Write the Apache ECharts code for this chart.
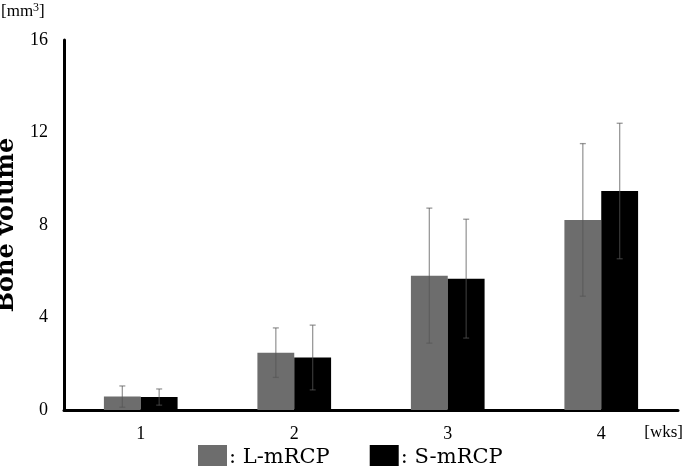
<!DOCTYPE html>
<html><head><meta charset="utf-8">
<script src="https://cdn.jsdelivr.net/npm/echarts@6/dist/echarts.min.js"></script>
<style>html,body{margin:0;padding:0;background:#fff}#c{width:685px;height:466px}</style>
</head><body><div id="c"></div>
<script>
const categories = ['1', '2', '3', '4'];
const seriesNames = ['L-mRCP', 'S-mRCP'];
const lMean = [0.58, 2.48, 5.81, 8.22];
const lErr = [0.46, 1.07, 2.92, 3.3];
const sMean = [0.56, 2.27, 5.68, 9.47];
const sErr = [0.35, 1.4, 2.57, 2.93];
const yTicks = [0, 4, 8, 12, 16];

const FONT = '"Liberation Serif", "DejaVu Serif", serif';
const WIDE = '"DejaVu Serif", serif';
const chart = echarts.init(document.getElementById('c'), null, {renderer: 'canvas'});

function errSeries(mean, err, side) {
  return {
    type: 'custom',
    z: 10,
    silent: true,
    data: mean.map((m, i) => [i, m - err[i], m + err[i]]),
    renderItem: function (params, api) {
      const i = api.value(0);
      const lo = api.coord([i, api.value(1)]);
      const hi = api.coord([i, api.value(2)]);
      const band = api.size([1, 0])[0];
      const x = lo[0] + side * band * 0.12;
      const cap = 3;
      const style = {stroke: 'rgba(85,85,85,0.6)', lineWidth: 1.3, fill: null};
      return {
        type: 'group',
        children: [
          {type: 'line', shape: {x1: x, y1: lo[1], x2: x, y2: hi[1]}, style: style},
          {type: 'line', shape: {x1: x - cap, y1: lo[1], x2: x + cap, y2: lo[1]}, style: style},
          {type: 'line', shape: {x1: x - cap, y1: hi[1], x2: x + cap, y2: hi[1]}, style: style}
        ]
      };
    }
  };
}

chart.setOption({
  animation: false,
  backgroundColor: '#fff',
  grid: {left: 64, right: 7, top: 40, bottom: 56, containLabel: false, outerBoundsMode: 'none'},
  legend: {
    left: 193, top: 440,
    itemWidth: 29, itemHeight: 25, itemGap: 40,
    data: seriesNames,
    formatter: n => ': ' + n,
    textStyle: {fontFamily: WIDE, fontSize: 21, color: '#000', padding: [0, 0, 0, -3]},
    icon: 'rect'
  },
  graphic: [
    {type: 'text', left: 1, top: 2, style: {
      text: '[mm{s|3}]', fontFamily: FONT, fontSize: 17, fill: '#000',
      rich: {s: {fontFamily: FONT, fontSize: 12, verticalAlign: 'top', padding: [0, 0, 8, 0]}}
    }},
    {type: 'text', right: 2, top: 424, style: {text: '[wks]', fontFamily: FONT, fontSize: 17, fill: '#000'}}
  ],
  xAxis: {
    type: 'category',
    data: categories,
    axisLine: {lineStyle: {color: '#000', width: 3}},
    axisTick: {show: false},
    axisLabel: {fontFamily: FONT, fontSize: 18, color: '#000', margin: 15}
  },
  yAxis: {
    type: 'value',
    min: yTicks[0], max: yTicks[yTicks.length - 1], interval: 4,
    name: 'Bone volume',
    nameLocation: 'middle',
    nameGap: 42,
    nameTextStyle: {fontFamily: WIDE, fontSize: 24, fontWeight: 'bold', color: '#000'},
    axisLine: {show: true, lineStyle: {color: '#000', width: 3}},
    axisTick: {show: false},
    splitLine: {show: false},
    axisLabel: {fontFamily: FONT, fontSize: 18, color: '#000', margin: 16}
  },
  series: [
    {name: seriesNames[0], type: 'bar', data: lMean, barWidth: '24%', barGap: '0%',
     itemStyle: {color: '#6d6d6d'}},
    {name: seriesNames[1], type: 'bar', data: sMean, barWidth: '24%', barGap: '0%',
     itemStyle: {color: '#000'}},
    errSeries(lMean, lErr, -1),
    errSeries(sMean, sErr, 1)
  ]
});
</script></body></html>
